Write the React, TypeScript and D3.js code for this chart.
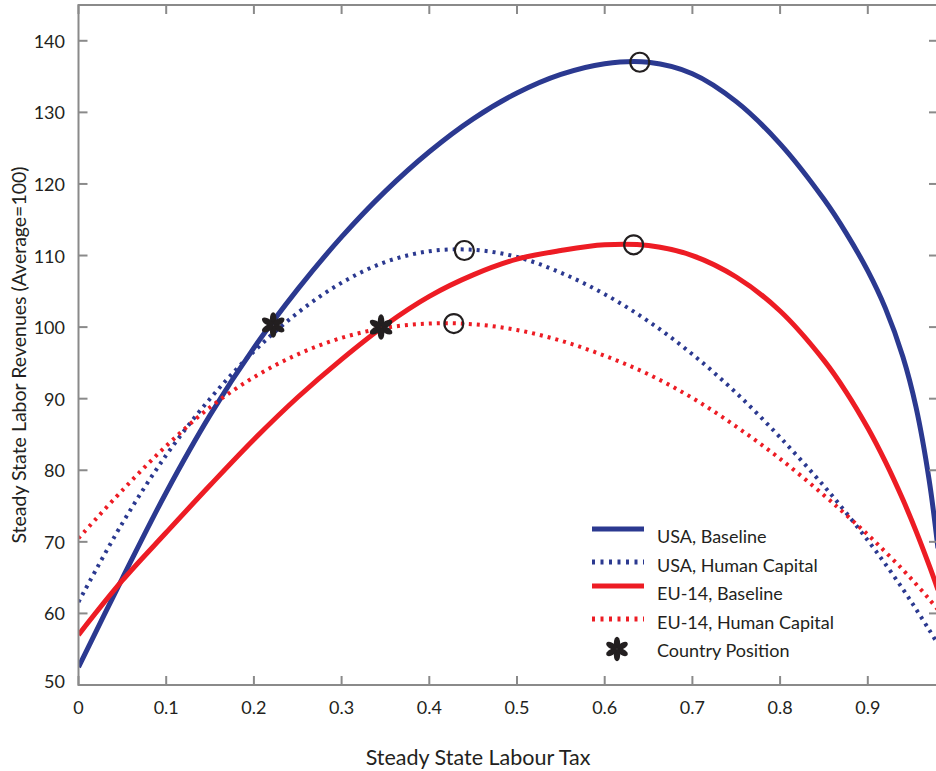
import React from 'react';
import * as d3 from 'd3';

// steady state labour tax grid (denser near the right end where curves fall fast)
const taxGrid = [0, 0.05, 0.1, 0.15, 0.2, 0.25, 0.3, 0.35, 0.4, 0.45, 0.5, 0.55, 0.6, 0.65, 0.7, 0.75, 0.8, 0.85, 0.875, 0.9, 0.92, 0.94, 0.955, 0.97, 0.98];

const usaBaseline = [52.5, 64.9, 76.9, 87.7, 97.1, 105.3, 112.6, 119.0, 124.5, 129.1, 132.7, 135.3, 136.8, 137.0, 135.4, 131.5, 125.6, 117.85, 113.2, 107.85, 102.65, 95.85, 88.8, 78.6, 69.1];
const usaHuman = [61.6, 72.6, 82.1, 90.0, 96.6, 102.0, 106.2, 109.1, 110.6, 110.8, 109.8, 107.6, 104.6, 100.8, 96.2, 90.8, 84.6, 77.8, 74.1, 70.2, 66.9, 63.4, 60.6, 57.7, 55.7];
const euBaseline = [57, 64.6, 71.3, 77.9, 84.3, 90.2, 95.5, 100.3, 104.3, 107.3, 109.5, 110.7, 111.5, 111.4, 110.0, 107.0, 102.25, 95.35, 91.0, 85.9, 81.2, 75.9, 71.5, 66.7, 63.3];
const euHuman = [70.5, 77.2, 83.4, 88.8, 93.0, 96.2, 98.5, 99.9, 100.5, 100.4, 99.6, 98.1, 96.0, 93.4, 90.1, 86.1, 81.6, 76.5, 73.8, 71.0, 68.6, 66.1, 64.1, 62.0, 60.5];

// optimum (circle) and current country position (star)
const peaks = [
  { tax: 0.64, rev: 137.0 },
  { tax: 0.44, rev: 110.7 },
  { tax: 0.633, rev: 111.5 },
  { tax: 0.428, rev: 100.5 },
];
const countries = [
  { tax: 0.222, rev: 100.3 },
  { tax: 0.345, rev: 100.0 },
];

const xTicks = [0, 0.1, 0.2, 0.3, 0.4, 0.5, 0.6, 0.7, 0.8, 0.9];
const yTicks = [50, 60, 70, 80, 90, 100, 110, 120, 130, 140];

const BLUE = '#2b3990';
const RED = '#ed1c24';
const INK = '#231f20';
const AXIS = '#8a8a8a';
const FONT = 'Lato, "Open Sans", sans-serif';

const seriesList = [
  { name: 'USA, Baseline', values: usaBaseline, color: BLUE, dotted: false },
  { name: 'USA, Human Capital', values: usaHuman, color: BLUE, dotted: true },
  { name: 'EU-14, Baseline', values: euBaseline, color: RED, dotted: false },
  { name: 'EU-14, Human Capital', values: euHuman, color: RED, dotted: true },
];

function Star({ x, y, size }: { x: number; y: number; size: number }) {
  const r = size / 2;
  return (
    <g transform={`translate(${x},${y})`} fill={INK}>
      {[0, 60, 120, 180, 240, 300].map(a => (
        <ellipse key={a} cx={0} cy={-r * 0.52} rx={r * 0.26} ry={r * 0.5} transform={`rotate(${a})`} />
      ))}
    </g>
  );
}

export default function App() {
  const width = 936;
  const height = 771;
  const left = 78.5, right = 938, top = 5, bottom = 685;

  const x = d3.scaleLinear().domain([0, 0.98]).range([left, left + 877 * 0.98]);
  const y = d3.scaleLinear().domain([50, 145]).range([bottom, top]);

  const line = d3.line<number>()
    .x((_, i) => x(taxGrid[i]))
    .y(d => y(d))
    .curve(d3.curveCatmullRom.alpha(0.5));

  const tick = 9;
  const legendX = 592, legendTextX = 657;
  const legendRows = [536, 565, 593, 622];

  return (
    <svg width={width} height={height} style={{ position: 'absolute', left: 0, top: 0, background: '#fff' }} fontFamily={FONT}>
      <defs>
        <clipPath id="plot">
          <rect x={left} y={top} width={right - left} height={bottom - top} />
        </clipPath>
      </defs>

      {/* curves */}
      <g clipPath="url(#plot)" fill="none">
        {seriesList.map(s => (
          <path key={s.name} d={line(s.values) || ''} stroke={s.color}
            strokeWidth={s.dotted ? 4 : 5}
            strokeDasharray={s.dotted ? '3,5' : undefined} />
        ))}
      </g>

      {/* axes box */}
      <g stroke={AXIS} strokeWidth={2} fill="none">
        <rect x={left} y={top} width={right - left} height={bottom - top} />
        {xTicks.map(t => (
          <g key={t}>
            <line x1={x(t)} x2={x(t)} y1={bottom} y2={bottom - tick} />
            <line x1={x(t)} x2={x(t)} y1={top} y2={top + tick} />
          </g>
        ))}
        {yTicks.map(t => (
          <g key={t}>
            <line x1={left} x2={left + tick} y1={y(t)} y2={y(t)} />
            <line x1={right} x2={right - tick} y1={y(t)} y2={y(t)} />
          </g>
        ))}
      </g>

      {/* markers */}
      <g fill="none" stroke={INK} strokeWidth={2.2}>
        {peaks.map((p, i) => (
          <circle key={i} cx={x(p.tax)} cy={y(p.rev)} r={9.5} />
        ))}
      </g>
      {countries.map((c, i) => (
        <Star key={i} x={x(c.tax)} y={y(c.rev)} size={25} />
      ))}

      {/* tick labels */}
      <g fill={INK} fontSize={18}>
        {xTicks.map(t => (
          <text key={t} x={x(t)} y={707} textAnchor="middle" dominantBaseline="central">{t === 0 ? '0' : d3.format('.1f')(t)}</text>
        ))}
        {yTicks.map(t => (
          <text key={t} x={65} y={t === 50 ? y(t) - 4 : y(t)} textAnchor="end" dominantBaseline="central">{t}</text>
        ))}
      </g>

      {/* axis titles */}
      <text x={478} y={757} textAnchor="middle" dominantBaseline="central" fontSize={21.5} fill={INK}>Steady State Labour Tax</text>
      <text transform={`translate(18,355) rotate(-90)`} textAnchor="middle" dominantBaseline="central" fontSize={19.5} fill={INK}>Steady State Labor Revenues (Average=100)</text>

      {/* legend */}
      <g fontSize={18} fill={INK}>
        {seriesList.map((s, i) => (
          <g key={s.name}>
            <line x1={legendX} x2={legendX + 52} y1={legendRows[i] - (s.dotted ? 3 : 7)} y2={legendRows[i] - (s.dotted ? 3 : 7)}
              stroke={s.color} strokeWidth={5} strokeDasharray={s.dotted ? '3,5.5' : undefined} />
            <text x={legendTextX} y={legendRows[i]} dominantBaseline="central">{s.name}</text>
          </g>
        ))}
        <Star x={617} y={649} size={24} />
        <text x={legendTextX} y={650} dominantBaseline="central">Country Position</text>
      </g>
    </svg>
  );
}
